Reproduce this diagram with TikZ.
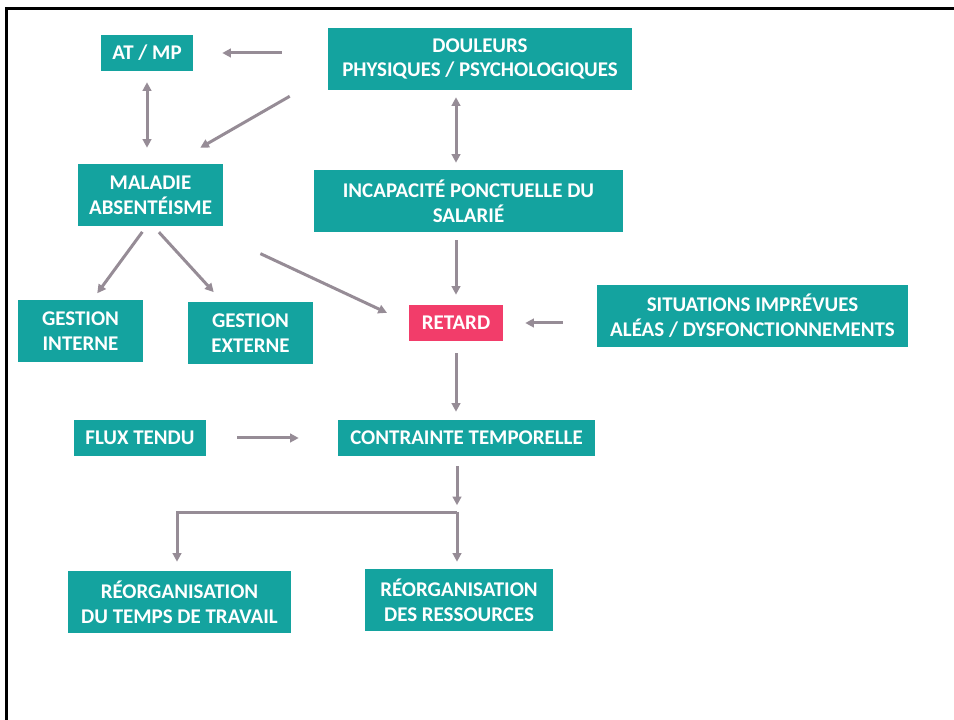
\documentclass[tikz,border=0pt]{standalone}
\usepackage{fontspec}
\setmainfont{Carlito}
\usetikzlibrary{arrows.meta,positioning,calc}
\newdimen\px \px=0.75pt
\definecolor{tealbox}{RGB}{20,163,159}
\definecolor{retardred}{RGB}{242,61,106}
\definecolor{flgray}{RGB}{150,140,150}

\begin{document}
\begin{tikzpicture}[
  x=0.75pt, y=-0.75pt,
  >={Triangle[length=6.5pt,width=6.5pt]},
  font=\fontsize{15.7pt}{18.6pt}\selectfont\bfseries,
  box/.style={fill=tealbox, text=white, align=center, inner sep=0pt,
              minimum height=36\px},
  box2/.style={box, minimum height=62\px},
  alert/.style={box, fill=retardred},
  fl/.style={->, line width=3\px, draw=flgray},
  fll/.style={fl, <->},
]
\useasboundingbox (0,0) rectangle (954,720);
\draw[line width=3\px] (6.5,720) -- (6.5,8.5) -- (954,8.5);

\node[box, minimum width=92\px] (atmp) at (147,53) {AT / MP};
\node[box2, minimum width=304\px] (dou) at (480,59) {DOULEURS\\PHYSIQUES / PSYCHOLOGIQUES};
\node[box2, minimum width=145\px] (mal) at (150.5,195) {MALADIE\\ABSENTÉISME};
\node[box2, minimum width=309\px] (incap) at (468.5,201) {INCAPACITÉ PONCTUELLE DU\\SALARIÉ};
\node[box2, minimum width=125\px] (gi) at (80.5,331) {GESTION\\INTERNE};
\node[box2, minimum width=125\px] (ge) at (250.5,333) {GESTION\\EXTERNE};
\node[alert, minimum width=94\px] (ret) at (456,323) {RETARD};
\node[box2, minimum width=311\px] (sit) at (752.5,316) {SITUATIONS IMPRÉVUES\\ALÉAS / DYSFONCTIONNEMENTS};
\node[box, minimum width=132\px] (flux) at (140,438) {FLUX TENDU};
\node[box, minimum width=257\px] (ctr) at (466.5,438) {CONTRAINTE TEMPORELLE};
\node[box2, minimum width=223\px] (rt) at (179.5,602) {RÉORGANISATION\\DU TEMPS DE TRAVAIL};
\node[box2, minimum width=188\px] (rr) at (459,600) {RÉORGANISATION\\DES RESSOURCES};
\coordinate (split) at ([xshift=-9.5\px,yshift=-56\px]ctr.south);

\draw[fl, shorten <=46\px, shorten >=29\px] (dou.west |- atmp.east) -- (atmp.east);
\draw[fl] ([xshift=-38\px,yshift=-6\px]dou.south west) -- ([xshift=-23\px,yshift=16\px]mal.north east);
\draw[fll, shorten <=11\px, shorten >=16\px] (atmp.south) -- (atmp.south |- mal.north);
\draw[fll, shorten <=7\px, shorten >=7\px] ([xshift=-24\px]dou.south) -- ([xshift=-24\px]dou.south |- incap.north);
\draw[fl, shorten <=8\px, shorten >=10\px] (incap.south -| ret.north) -- (ret.north);
\draw[fl, shorten <=7\px, shorten >=8\px] ([xshift=-4\px]mal.south) -- ([xshift=12\px]gi.north);
\draw[fl, shorten <=8\px, shorten >=13\px] ([xshift=3\px]mal.south) -- ([xshift=-28\px]ge.north);
\draw[fl, shorten <=41\px, shorten >=24\px] ([yshift=-10\px]mal.south east) -- (ret.west);
\draw[fl, shorten <=34\px, shorten >=22\px] (sit.west |- ret.east) -- (ret.east);
\draw[fl, shorten <=12\px, shorten >=8\px] (ret.south) -- (ret.south |- ctr.north);
\draw[fl, shorten <=31\px, shorten >=39\px] (flux.east) -- (ctr.west);
\draw[fl, shorten <=10\px, shorten >=7\px] (ctr.south -| split) -- (split);
\draw[fl, shorten >=9\px] (split) -| ([xshift=-2.5\px]rt.north);
\draw[fl, shorten >=7\px] (split) -- (split |- rr.north);
\end{tikzpicture}
\end{document}
